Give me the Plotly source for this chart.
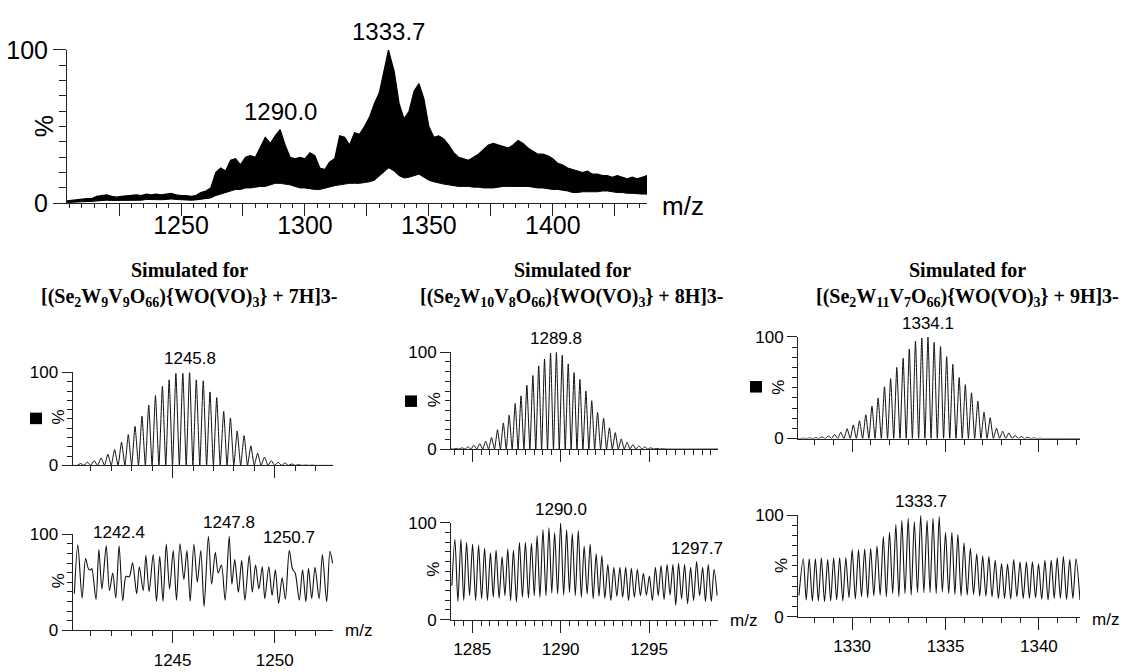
import plotly.graph_objects as go

W, H = 1127, 672

# ---------------- survey spectrum: upper / lower envelope of the dense trace ----------------
survey_mz = [1204, 1206, 1208, 1210, 1212, 1214, 1216, 1218, 1220, 1222, 1224, 1226, 1228, 1230,
             1232, 1234, 1236, 1238, 1240, 1242, 1244, 1246, 1248, 1250, 1252, 1254, 1256, 1258,
             1260, 1262, 1264, 1266, 1268, 1270, 1272, 1274, 1276, 1278, 1280, 1282, 1284, 1286,
             1288, 1290, 1292, 1294, 1296, 1298, 1300, 1302, 1304, 1306, 1308, 1310, 1312, 1314,
             1316, 1318, 1320, 1322, 1324, 1326, 1328, 1330, 1332, 1333, 1333.7, 1334.5, 1336,
             1338, 1340, 1342, 1344, 1346, 1348, 1350, 1352, 1354, 1356, 1358, 1360, 1362, 1364,
             1366, 1368, 1370, 1372, 1374, 1376, 1378, 1380, 1382, 1384, 1386, 1388, 1390, 1392,
             1394, 1396, 1398, 1400, 1402, 1404, 1406, 1408, 1410, 1412, 1414, 1416, 1418, 1420,
             1422, 1424, 1426, 1428, 1430, 1432, 1434, 1436, 1438]
survey_top = [1.5, 2, 2, 2.5, 3, 3, 4.5, 5, 5.5, 4.5, 4, 4.5, 5, 5,
              5.5, 5, 6, 5.5, 6, 5.5, 6, 6.5, 5.5, 5, 5, 4.5, 5, 7,
              8, 10, 20, 23, 21, 28, 29, 25, 30, 31, 30, 36, 43, 39,
              44, 48, 38, 30, 29, 30, 29, 33, 31, 23, 22, 27, 29, 44,
              43, 38, 46, 45, 50, 56, 65, 72, 88, 94, 100, 95, 86,
              65, 55, 60, 73, 78, 68, 50, 43, 44, 42, 38, 33, 30, 29,
              28, 30, 32, 35, 38, 39, 38, 37, 36, 38, 41, 39, 36, 34,
              32, 32, 31, 29, 26, 25, 23, 22, 21, 20, 21, 19, 19, 18,
              18, 17, 18, 17, 16, 17, 16, 17, 18]
survey_base = [0.5, 0.5, 0.8, 1, 1, 1.2, 1.5, 1.8, 2, 1.8, 1.8, 2, 2, 2,
               2.2, 2, 2.5, 2.3, 2.5, 2.3, 2.5, 2.8, 2.5, 2.2, 2.2, 2, 2.2, 2.5,
               3, 3.5, 5, 6, 7, 8, 9, 9, 10, 10, 10.5, 11, 11, 12,
               13, 13, 12.5, 12, 11, 10, 10, 9.5, 9, 9, 10, 11, 11.5, 12,
               12.5, 13, 13, 13, 13.5, 14, 15, 18, 21, 22, 23, 22.5, 21,
               18, 16.5, 17, 18, 19, 17, 15, 14, 13, 12.5, 12, 11.5, 11, 11,
               11, 10.5, 10.5, 10, 10, 10, 10.5, 11, 11, 11, 11, 11, 11, 10.5,
               10, 10, 9.5, 9, 9, 8.5, 8, 7, 7, 7.5, 7.5, 7.5, 7.5, 8,
               8, 7.5, 7, 7, 6.5, 6.5, 6, 6, 6]
survey_labels = ["1290.0", "1333.7"]

# ---------------- simulated isotope patterns (peak apexes) ----------------
sim1_mz = [1240.50, 1240.83, 1241.16, 1241.50, 1241.83, 1242.16, 1242.50, 1242.83, 1243.16, 1243.50,
           1243.83, 1244.16, 1244.50, 1244.83, 1245.16, 1245.50, 1245.83, 1246.16, 1246.50, 1246.83,
           1247.16, 1247.50, 1247.83, 1248.16, 1248.50, 1248.83, 1249.16, 1249.50, 1249.83, 1250.16,
           1250.50, 1250.83, 1251.16, 1251.50, 1251.83]
sim1_pct = [2, 3.5, 5, 8, 12, 17, 25, 33, 42, 53,
            65, 75, 85, 92, 99, 99, 100, 92, 91, 79,
            73, 58, 51, 37, 32, 21, 13, 9, 5, 3.5,
            2.5, 1.5, 0.7, 0.3, 0.2]

sim2_mz = [1284.09, 1284.43, 1284.76, 1285.09, 1285.43, 1285.76, 1286.09, 1286.43, 1286.76, 1287.09,
           1287.43, 1287.76, 1288.09, 1288.43, 1288.76, 1289.09, 1289.43, 1289.76, 1290.09, 1290.43,
           1290.76, 1291.09, 1291.43, 1291.76, 1292.09, 1292.43, 1292.76, 1293.09, 1293.43, 1293.76,
           1294.09, 1294.43, 1294.76, 1295.09, 1295.43, 1295.76]
sim2_pct = [0.7, 1.3, 2.3, 4, 5.6, 8.2, 12, 20, 27, 35,
            47, 55, 66, 76, 86, 93, 99, 100, 97, 88,
            79, 72, 60, 50, 38, 32, 22, 17, 10.5, 7,
            4.6, 3.3, 2.3, 1.3, 0.7, 0.3]

sim3_mz = [1327.39, 1327.73, 1328.06, 1328.39, 1328.73, 1329.06, 1329.39, 1329.73, 1330.06, 1330.39,
           1330.73, 1331.06, 1331.39, 1331.73, 1332.06, 1332.39, 1332.73, 1333.06, 1333.39, 1333.73,
           1334.06, 1334.39, 1334.73, 1335.06, 1335.39, 1335.73, 1336.06, 1336.39, 1336.73, 1337.06,
           1337.39, 1337.73, 1338.06, 1338.39, 1338.73, 1339.06, 1339.39, 1339.73, 1340.06]
sim3_pct = [0.3, 0.6, 0.9, 1.6, 2.5, 4, 6.2, 9.7, 13.4, 17.5,
            23.4, 32, 40, 51, 59, 70, 79, 88, 96, 99,
            100, 94.7, 90.6, 80.6, 73, 60, 53, 45, 37, 26,
            20.6, 10.3, 7.2, 5.6, 3.1, 1.9, 1.25, 0.6, 0.3]

# ---------------- measured, expanded windows ----------------
exp1_mz = [1240.19, 1240.36, 1240.57, 1240.74, 1240.89, 1241.00, 1241.05, 1241.25, 1241.39, 1241.54,
           1241.75, 1241.91, 1242.07, 1242.22, 1242.38, 1242.56, 1242.72, 1242.88, 1243.04, 1243.24,
           1243.37, 1243.56, 1243.69, 1243.85, 1244.05, 1244.21, 1244.37, 1244.53, 1244.69, 1244.85,
           1245.03, 1245.19, 1245.36, 1245.55, 1245.70, 1245.86, 1246.04, 1246.21, 1246.38, 1246.54,
           1246.75, 1246.91, 1247.09, 1247.23, 1247.39, 1247.57, 1247.77, 1247.90, 1248.04, 1248.22,
           1248.38, 1248.54, 1248.75, 1248.90, 1249.06, 1249.22, 1249.39, 1249.51, 1249.71, 1249.87,
           1250.03, 1250.19, 1250.36, 1250.52, 1250.71, 1250.87, 1251.00, 1251.20, 1251.36, 1251.52,
           1251.65, 1251.81, 1251.97, 1252.17, 1252.33, 1252.54, 1252.70, 1252.83]
exp1_pct = [38, 89, 33.7, 74.7, 63.7, 63, 64.3, 32, 84.3, 43,
            88, 41.3, 59.7, 33.7, 88, 30.7, 56.3, 55.7, 70.3, 38,
            66.3, 41.3, 78, 40.3, 79, 30.3, 77, 30.3, 89.7, 43,
            83, 31.3, 90.3, 53, 83, 30.3, 89.7, 50.3, 83, 24.7,
            98, 48, 81.3, 59.7, 68, 31.3, 98, 48, 73.7, 39.7,
            73, 31.3, 78, 39.7, 68, 43, 66.3, 33, 66.3, 36.3,
            63, 28, 54.7, 32.3, 83, 63.7, 59.7, 31.3, 63, 29.7,
            64.7, 33, 65.7, 33, 79, 29.7, 82.3, 69.7]
exp1_labels = ["1242.4", "1247.8", "1250.7"]

exp2_peak_mz = [1284.02, 1284.36, 1284.68, 1285.02, 1285.36, 1285.70, 1286.03, 1286.35, 1286.69, 1287.01,
                1287.33, 1287.67, 1288.01, 1288.35, 1288.67, 1289.00, 1289.34, 1289.66, 1290.00, 1290.34,
                1290.66, 1291.00, 1291.33, 1291.67, 1292.01, 1292.33, 1292.67, 1293.01, 1293.35, 1293.68,
                1294.00, 1294.34, 1294.68, 1295.02, 1295.36, 1295.68, 1296.02, 1296.35, 1296.67, 1297.01,
                1297.35, 1297.69, 1298.03, 1298.35, 1298.68]
exp2_peak_pct = [83, 83, 80, 78, 77, 74, 69, 72, 65, 73,
                 72, 80, 80, 79, 87, 93, 95, 90, 100, 93,
                 89, 92, 76, 78, 68, 66, 57, 54, 54, 54,
                 53, 52, 48, 45, 54, 56, 57, 57, 58, 57,
                 54, 60, 54, 57, 52]
exp2_valley_mz = [1283.85, 1284.19, 1284.52, 1284.85, 1285.19, 1285.53, 1285.86, 1286.19, 1286.52, 1286.85,
                  1287.17, 1287.50, 1287.84, 1288.18, 1288.51, 1288.83, 1289.17, 1289.50, 1289.83, 1290.17,
                  1290.50, 1290.83, 1291.17, 1291.50, 1291.84, 1292.17, 1292.50, 1292.84, 1293.18, 1293.51,
                  1293.84, 1294.17, 1294.51, 1294.85, 1295.19, 1295.52, 1295.85, 1296.19, 1296.51, 1296.84,
                  1297.18, 1297.52, 1297.86, 1298.19, 1298.52, 1298.85]
exp2_valley_pct = [35, 18.8, 19.8, 24.8, 19.8, 21.5, 19.8, 23.1, 22.1, 24.8,
                   19.8, 18.2, 23.1, 22.4, 24.8, 23.1, 24.8, 27.4, 26.4, 25.4,
                   28.1, 24.8, 23.1, 26.4, 21.5, 24.1, 22.1, 19.8, 24.1, 23.1,
                   19.8, 23.1, 24.8, 25.4, 19.8, 24.8, 20.8, 25.4, 14.9, 21.5,
                   16.5, 19.8, 24.8, 18.8, 18.8, 25]
exp2_labels = ["1290.0", "1297.7"]

exp3_peak_mz = [1327.38, 1327.70, 1328.03, 1328.35, 1328.69, 1329.01, 1329.33, 1329.66, 1330.00, 1330.34,
                1330.67, 1330.99, 1331.33, 1331.67, 1332.00, 1332.34, 1332.66, 1333.00, 1333.33, 1333.67,
                1334.01, 1334.33, 1334.66, 1335.00, 1335.34, 1335.66, 1335.99, 1336.33, 1336.67, 1336.99,
                1337.32, 1337.66, 1338.00, 1338.32, 1338.65, 1338.99, 1339.33, 1339.65, 1339.98, 1340.32,
                1340.66, 1340.98, 1341.31, 1341.65, 1341.99]
exp3_peak_pct = [57.2, 57.2, 57.2, 58.1, 56.3, 58.1, 58.1, 58.1, 65.9, 65.9,
                 66.6, 67.5, 69.7, 79.1, 83.1, 90.9, 94.7, 96.9, 93.8, 100,
                 94.7, 96.9, 98.8, 83.1, 83.1, 81.3, 72.8, 67.5, 61.9, 59.7,
                 59.4, 55.6, 52.5, 51.9, 56.3, 54.1, 54.1, 54.1, 51.9, 55.6,
                 55.6, 58.1, 59.4, 56.3, 57.2]
exp3_valley_mz = [1327.15, 1327.54, 1327.87, 1328.19, 1328.52, 1328.85, 1329.17, 1329.50, 1329.83, 1330.17,
                  1330.50, 1330.83, 1331.16, 1331.50, 1331.83, 1332.17, 1332.50, 1332.83, 1333.16, 1333.50,
                  1333.84, 1334.17, 1334.50, 1334.83, 1335.17, 1335.50, 1335.83, 1336.16, 1336.50, 1336.83,
                  1337.16, 1337.49, 1337.83, 1338.16, 1338.49, 1338.82, 1339.16, 1339.49, 1339.82, 1340.15,
                  1340.49, 1340.82, 1341.15, 1341.48, 1341.82, 1342.2]
exp3_valley_pct = [21, 16.6, 15.6, 15.6, 15, 15.6, 16.6, 15.6, 18.8, 17.5,
                   19.7, 18.8, 20.6, 21.3, 19.7, 22.8, 19.7, 22.8, 21.3, 23.8,
                   23.8, 23.8, 22.8, 24.4, 22.8, 21.9, 20.6, 21.3, 21.9, 20.3,
                   20.3, 19.7, 18.1, 18.1, 17.5, 19.7, 18.1, 18.1, 18.8, 17.2,
                   16.6, 18.1, 18.1, 17.2, 18.1, 16.5]
exp3_labels = ["1333.7"]

sim_labels = ["1245.8", "1289.8", "1334.1"]
sim_titles = [
    "[(Se<sub>2</sub>W<sub>9</sub>V<sub>9</sub>O<sub>66</sub>){WO(VO)<sub>3</sub>} + 7H]3-",
    "[(Se<sub>2</sub>W<sub>10</sub>V<sub>8</sub>O<sub>66</sub>){WO(VO)<sub>3</sub>} + 8H]3-",
    "[(Se<sub>2</sub>W<sub>11</sub>V<sub>7</sub>O<sub>66</sub>){WO(VO)<sub>3</sub>} + 9H]3-",
]

# ---------------- helpers ----------------
SANS = "Liberation Sans"
SERIF = "Liberation Serif"


def px(x):
    return x / W


def py(y):
    return 1 - y / H


def stick_trace(mz, pct, lo, hi):
    """Isotope sticks returning to the baseline between neighbouring apexes."""
    xs, ys = [lo], [0]
    for i, (m, p) in enumerate(zip(mz, pct)):
        gap = (mz[1] - mz[0]) if i == 0 else (m - mz[i - 1])
        xs += [m - gap / 2, m]
        ys += [0, p]
    xs += [mz[-1] + (mz[-1] - mz[-2]) / 2, hi]
    ys += [0, 0]
    return xs, ys


def merge(peak_mz, peak_pct, valley_mz, valley_pct):
    pts = sorted(list(zip(peak_mz, peak_pct)) + list(zip(valley_mz, valley_pct)))
    return [p[0] for p in pts], [p[1] for p in pts]


def nearest(mz, pct, value):
    i = min(range(len(mz)), key=lambda k: abs(mz[k] - value))
    return mz[i], pct[i]


fig = go.Figure()

# panel geometry (pixels): left, right, top(100 %), bottom(0 %)
panels = {
    1: dict(box=(67, 647, 37.5, 197.5), rng=[1204, 1438]),
    2: dict(box=(72.5, 333, 374, 471), rng=[1240.1, 1252.85]),
    3: dict(box=(451, 718, 353, 454), rng=[1283.8, 1298.9]),
    4: dict(box=(798, 1080, 337, 443), rng=[1327.1, 1342.2]),
    5: dict(box=(72.5, 333, 543, 643), rng=[1240.1, 1252.85]),
    6: dict(box=(451, 718, 531, 632), rng=[1283.8, 1298.9]),
    7: dict(box=(798, 1080, 523, 629), rng=[1327.1, 1342.2]),
}


def axname(i, a):
    return a + ("" if i == 1 else str(i))


# ---- survey trace
fig.add_trace(go.Scatter(x=survey_mz, y=survey_base, mode="lines",
                         line=dict(color="black", width=1), xaxis="x", yaxis="y",
                         showlegend=False, hoverinfo="skip"))
fig.add_trace(go.Scatter(x=survey_mz, y=survey_top, mode="lines", fill="tonexty",
                         fillcolor="black", line=dict(color="black", width=1.2),
                         xaxis="x", yaxis="y", showlegend=False))

# ---- simulated patterns
for i, (mz, pct) in zip((2, 3, 4), ((sim1_mz, sim1_pct), (sim2_mz, sim2_pct), (sim3_mz, sim3_pct))):
    lo, hi = panels[i]["rng"]
    xs, ys = stick_trace(mz, pct, lo, hi)
    fig.add_trace(go.Scatter(x=xs, y=ys, mode="lines",
                             line=dict(color="#111", width=1, shape="spline", smoothing=0.5),
                             xaxis=axname(i, "x"), yaxis=axname(i, "y"), showlegend=False))

# ---- measured windows
e2x, e2y = merge(exp2_peak_mz, exp2_peak_pct, exp2_valley_mz, exp2_valley_pct)
e3x, e3y = merge(exp3_peak_mz, exp3_peak_pct, exp3_valley_mz, exp3_valley_pct)
for i, (xs, ys) in zip((5, 6, 7), ((exp1_mz, exp1_pct), (e2x, e2y), (e3x, e3y))):
    fig.add_trace(go.Scatter(x=xs, y=ys, mode="lines",
                             line=dict(color="#111", width=1.1, shape="spline", smoothing=0.8),
                             xaxis=axname(i, "x"), yaxis=axname(i, "y"), showlegend=False))

# ---------------- axes ----------------
layout = {}
for i, p in panels.items():
    l, r, t, b = p["box"]
    big = i == 1
    fsize = 25 if big else 17
    xa = dict(domain=[px(l), px(r)], range=p["rng"], anchor=axname(i, "y"),
              showline=True, linecolor="#222", linewidth=1, showgrid=False, zeroline=False,
              ticks="outside", tickcolor="#222", tickwidth=1, ticklen=12,
              ticklabelstandoff=-12 if big else 2,
              tickfont=dict(family=SANS, size=fsize, color="black"), fixedrange=True)
    if big:
        xa.update(tickvals=[1225, 1250, 1275, 1300, 1325, 1350, 1375, 1400, 1425],
                  ticktext=["", "1250", "", "1300", "", "1350", "", "1400", ""],
                  minor=dict(dtick=5, tick0=1205, ticks="outside", ticklen=4, tickcolor="#222"))
    else:
        col = (i - 2) % 3
        xa.update(dtick=5, tick0=[1245, 1285, 1330][col],
                  minor=dict(dtick=[1, 0.5, 1][col], ticks="outside", ticklen=5, tickcolor="#222"),
                  showticklabels=i >= 5)
    ya = dict(domain=[py(b), py(t)], range=[0, 100], anchor=axname(i, "x"),
              showline=True, linecolor="#222", linewidth=1, showgrid=False, zeroline=False,
              ticks="outside", tickcolor="#222", tickwidth=1, ticklen=13 if big else 10,
              tickvals=[0, 100], ticktext=["0", "100"],
              tickfont=dict(family=SANS, size=fsize, color="black"),
              minor=dict(dtick=10, ticks="outside", ticklen=7 if big else 5, tickcolor="#222"),
              fixedrange=True)
    layout[axname(i, "xaxis")] = xa
    layout[axname(i, "yaxis")] = ya

annotations = []
shapes = []


def text(x, y, s, size, xanchor="center", yanchor="middle", angle=0, family=SANS):
    annotations.append(dict(x=px(x), y=py(y), xref="paper", yref="paper", text=s,
                            showarrow=False, xanchor=xanchor, yanchor=yanchor, textangle=angle,
                            font=dict(family=family, size=size, color="black")))


# axis titles
text(44, 117, "%", 25, angle=-90)
text(660, 200, "m/z", 26, xanchor="left")
for x, y in ((58, 421), (434, 403), (779, 390), (58, 592), (434, 580), (781, 576)):
    text(x, y, "%", 17, angle=-90)
for x, y in ((343, 643), (728, 633), (1090, 632)):
    text(x, y, "m/z", 17, xanchor="left")

# small filled squares beside the simulated panels
for x0, y0 in ((30, 416), (405, 398), (750, 383)):
    shapes.append(dict(type="rect", xref="paper", yref="paper", x0=px(x0), x1=px(x0 + 12),
                       y0=py(y0 + 12), y1=py(y0), fillcolor="black", line=dict(width=0)))

# simulated-pattern headings
for cx, formula in zip((189, 572, 967), sim_titles):
    text(cx, 267, "<b>Simulated for</b>", 20, family=SERIF)
    text(cx, 296, "<b>" + formula + "</b>", 20, family=SERIF)


def peak_label(i, mz, pct, label, size, shift=2):
    x, y = nearest(mz, pct, float(label))
    annotations.append(dict(x=x, y=y, xref=axname(i, "x"), yref=axname(i, "y"), text=label,
                            showarrow=False, yanchor="bottom", yshift=shift,
                            font=dict(family=SANS, size=size, color="black")))


for lab in survey_labels:
    peak_label(1, survey_mz, survey_top, lab, 24, shift=3)
for i, (mz, pct), lab in zip((2, 3, 4), ((sim1_mz, sim1_pct), (sim2_mz, sim2_pct), (sim3_mz, sim3_pct)),
                             sim_labels):
    peak_label(i, mz, pct, lab, 17)
for lab in exp1_labels:
    peak_label(5, exp1_mz, exp1_pct, lab, 17)
for lab in exp2_labels:
    peak_label(6, exp2_peak_mz, exp2_peak_pct, lab, 17)
for lab in exp3_labels:
    peak_label(7, exp3_peak_mz, exp3_peak_pct, lab, 17)

fig.update_layout(width=W, height=H, autosize=False, margin=dict(l=0, r=0, t=0, b=0),
                  paper_bgcolor="white", plot_bgcolor="white", showlegend=False,
                  annotations=annotations, shapes=shapes, **layout)

fig.write_html("out.html")
